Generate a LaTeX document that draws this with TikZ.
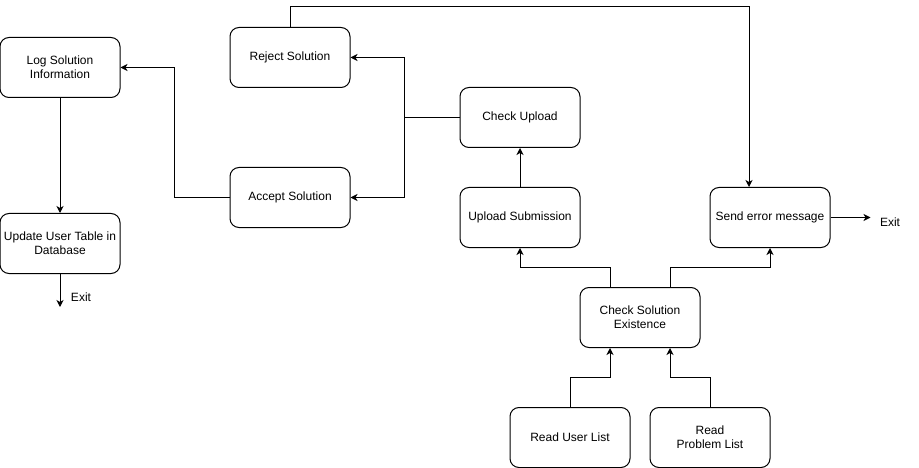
\documentclass[tikz,border=0pt]{standalone}
\usepackage{fontspec}
\setmainfont{Liberation Sans}
\usepackage{tikz}
\usetikzlibrary{arrows,arrows.meta}
\usetikzlibrary{positioning}

\tikzset{
	stepbox/.style={draw, line width=1pt, rounded corners=9pt, minimum width=120pt, minimum height=60pt, inner sep=0pt, align=center, font=\fontsize{12pt}{14pt}\selectfont},
	arr/.style={->,>={Stealth[length=7pt,width=7pt,inset=2pt]}, line width=1pt},
	link/.style={line width=1pt}
}

\begin{document}
\begin{tikzpicture}[x=1pt,y=-1pt]
	\useasboundingbox (0,0) rectangle (919,468);
	
	\node[stepbox] (log) at (60,67.5) {Log Solution\\Information};
	\node[stepbox] (upd) at (60,243.5) {Update User Table in\\Database};
	\node[stepbox] (rej) at (290,57.5) {Reject Solution};
	\node[stepbox] (acc) at (290,197.5) {Accept Solution};
	\node[stepbox] (chk) at (520,117.5) {Check Upload};
	\node[stepbox] (up) at (520,217.5) {Upload Submission};
	\node[stepbox] (err) at (770,217.5) {Send error message};
	\node[stepbox] (cse) at (640,317.5) {Check Solution\\Existence};
	\node[stepbox] (rul) at (570,437.5) {Read User List};
	\node[stepbox] (rpl) at (710,437.5) {Read\\Problem List};
	
	\node[font=\fontsize{12pt}{14pt}\selectfont] (exa) at (81,297) {Exit};
	\node[font=\fontsize{12pt}{14pt}\selectfont] (exb) at (890,222) {Exit};
	
	% check upload splits to reject / accept
	\draw[link] (chk.west) -- ++(-55,0) coordinate (split);
	\draw[arr] (split) |- (rej.east);
	\draw[arr] (split) |- (acc.east);
	
	\draw[arr] (acc.west) -- ++(-55,0) |- (log.east);
	\draw[arr] (log.south) -- (upd.north);
	\draw[arr] (upd.south) -- ++(0,33);
	
	\draw[arr] (rej.north) -- ++(0,-20) -| ([xshift=-21pt]err.north);
	\draw[arr] (err.east) -- ++(40,0);
	
	\draw[arr] (up.north) -- (chk.south);
	\draw[arr] ([xshift=-30pt]cse.north) -- ++(0,-20) -| (up.south);
	\draw[arr] ([xshift=30pt]cse.north) -- ++(0,-20) -| (err.south);
	
	\draw[arr] (rul.north) -- ++(0,-30) -| ([xshift=-30pt]cse.south);
	\draw[arr] (rpl.north) -- ++(0,-30) -| ([xshift=30pt]cse.south);
\end{tikzpicture}
\end{document}
